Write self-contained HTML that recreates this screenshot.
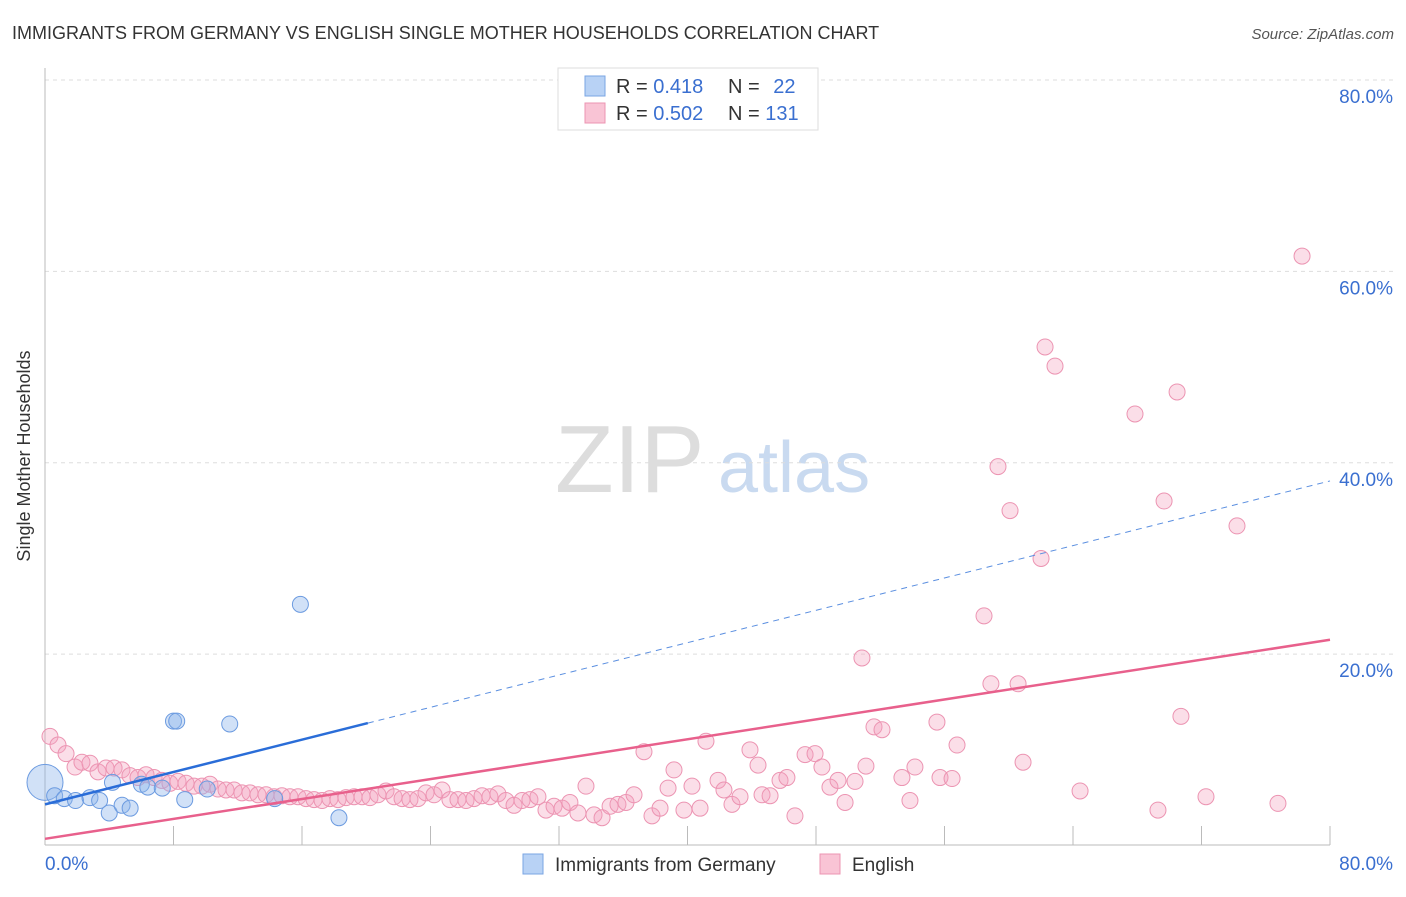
<!DOCTYPE html>
<html><head><meta charset="utf-8"><style>
body{margin:0;background:#fff;font-family:"Liberation Sans",sans-serif;}
svg text{font-family:"Liberation Sans",sans-serif;}
</style></head><body>
<svg id="chart" width="1406" height="892" viewBox="0 0 1406 892">
<text x="12" y="39" font-size="18" fill="#333">IMMIGRANTS FROM GERMANY VS ENGLISH SINGLE MOTHER HOUSEHOLDS CORRELATION CHART</text>
<text x="1394" y="39" font-size="15" fill="#555" text-anchor="end" font-style="italic">Source: ZipAtlas.com</text>
<text x="30" y="456" font-size="18" fill="#333" text-anchor="middle" transform="rotate(-90 30 456)">Single Mother Households</text>
<text x="555" y="492" font-size="96" fill="#ddd" font-family="Liberation Serif">ZIP</text>
<text x="718" y="492" font-size="72" fill="#c9daf0">atlas</text>
<g id="grid"></g>
<g id="pts"></g>
<g id="lines"></g>
<g>
<rect x="558" y="68" width="260" height="62" fill="#fff" stroke="#ddd"/>
<rect x="585" y="76" width="20" height="20" fill="#b8d2f5" stroke="#7aa5e3"/>
<rect x="585" y="103" width="20" height="20" fill="#f9c4d5" stroke="#ec94b2"/>
<text x="616" y="93" font-size="20" fill="#333">R = <tspan fill="#3a6fd0">0.418</tspan></text>
<text x="728" y="93" font-size="20" fill="#333">N = <tspan fill="#3a6fd0" dx="8">22</tspan></text>
<text x="616" y="120" font-size="20" fill="#333">R = <tspan fill="#3a6fd0">0.502</tspan></text>
<text x="728" y="120" font-size="20" fill="#333">N = <tspan fill="#3a6fd0">131</tspan></text>
</g>
<g>
<rect x="523" y="854" width="20" height="20" fill="#b8d2f5" stroke="#7aa5e3"/>
<text x="555" y="871" font-size="19" fill="#333">Immigrants from Germany</text>
<rect x="820" y="854" width="20" height="20" fill="#f9c4d5" stroke="#ec94b2"/>
<text x="852" y="871" font-size="19" fill="#333">English</text>
</g>
</svg>
<script>
const yTicks=[20,40,60,80];
const xTickLabels=["0.0%","80.0%"];
const blueX=[0,0.6,1.2,1.9,2.8,3.4,4.0,4.2,4.8,5.3,6.0,6.4,7.3,8.0,8.2,8.7,10.1,11.5,14.3,15.9,18.3];
const blueY=[6.6,5.2,4.9,4.7,5.0,4.7,3.4,6.6,4.2,3.9,6.4,6.1,6.0,13.0,13.0,4.8,5.9,12.7,4.9,25.2,2.9];
const pinkX=[0.31,0.81,1.31,1.87,2.30,2.80,3.30,3.80,4.30,4.79,5.29,5.79,6.29,6.79,7.28,7.78,8.28,8.78,9.28,9.77,10.27,10.77,11.27,11.77,12.26,12.76,13.26,13.76,14.26,14.75,15.25,15.75,16.25,16.75,17.25,17.74,18.24,18.74,19.24,19.74,20.23,20.73,21.23,21.73,22.23,22.72,23.22,23.72,24.22,24.72,25.21,25.71,26.21,26.71,27.21,27.70,28.20,28.70,29.20,29.70,30.19,30.69,31.19,31.69,32.19,32.68,33.18,33.68,34.18,34.68,35.18,35.67,36.17,36.67,37.29,37.79,38.29,38.79,39.16,39.78,40.28,40.78,41.15,41.90,42.27,42.77,43.27,43.89,44.39,44.64,45.14,45.76,46.19,46.69,47.32,47.94,48.37,48.87,49.37,49.81,50.43,50.86,51.11,51.61,52.11,53.35,53.85,54.16,55.53,55.72,56.47,56.78,58.46,58.89,59.33,60.08,60.58,60.89,62.01,62.26,62.88,64.44,67.86,69.29,69.67,70.48,70.72,72.28,74.21,76.76,78.26];
const pinkY=[11.4,10.5,9.6,8.2,8.7,8.6,7.7,8.1,8.1,7.9,7.3,7.1,7.4,7.1,6.8,6.5,6.7,6.5,6.2,6.2,6.4,5.9,5.8,5.8,5.5,5.5,5.3,5.3,5.1,5.2,5.1,5.1,4.9,4.8,4.7,4.9,4.8,5.0,5.1,5.1,5.0,5.3,5.7,5.1,4.9,4.8,4.9,5.5,5.3,5.8,4.8,4.8,4.7,4.9,5.2,5.1,5.4,4.7,4.2,4.7,4.8,5.1,3.7,4.1,3.9,4.5,3.4,6.2,3.2,2.9,4.1,4.3,4.5,5.3,9.8,3.1,3.9,6.0,7.9,3.7,6.2,3.9,10.9,6.8,5.8,4.3,5.1,10.0,8.4,5.3,5.2,6.8,7.1,3.1,9.5,9.6,8.2,6.1,6.8,4.5,6.7,19.6,8.3,12.4,12.1,7.1,4.7,8.2,12.9,7.1,7.0,10.5,24.0,16.9,39.6,35.0,16.9,8.7,30.0,52.1,50.1,5.7,45.1,3.7,36.0,47.4,13.5,5.1,33.4,4.4,61.6];
const X0=45,XS=(1330-45)/80,Y0=845.5,YS=(845.5-80)/80;
const sx=v=>X0+v*XS, sy=v=>Y0-v*YS;
const NS="http://www.w3.org/2000/svg";
function mk(tag,attrs,parent){const e=document.createElementNS(NS,tag);for(const k in attrs)e.setAttribute(k,attrs[k]);parent.appendChild(e);return e;}
const grid=document.getElementById('grid');
yTicks.forEach(t=>{
 const l=mk('line',{x1:45,x2:1394,y1:sy(t),y2:sy(t),stroke:'#ddd','stroke-dasharray':'4,4'},grid);
 
 
 const tx=mk('text',{x:1393,y:sy(t)+23,'font-size':19,fill:'#3a6fd0','text-anchor':'end'},grid);
 tx.textContent=t.toFixed(1)+'%';
 
 
});
const ax=mk('line',{x1:45,x2:1330,y1:845,y2:845,stroke:'#bbb'},grid);


const ay=mk('line',{x1:45,x2:45,y1:68,y2:845,stroke:'#bbb'},grid);


for(let i=1;i<=10;i++){const v=i*8;const t=mk('line',{x1:sx(v),x2:sx(v),y1:826,y2:845,stroke:'#bbb'},grid);
 
 }
const xl0=mk('text',{x:45,y:870,'font-size':19,fill:'#3a6fd0'},grid);xl0.textContent=xTickLabels[0];


const xl1=mk('text',{x:1393,y:870,'font-size':19,fill:'#3a6fd0','text-anchor':'end'},grid);xl1.textContent=xTickLabels[1];


const pts=document.getElementById('pts');
pinkX.forEach((x,i)=>{const c=mk('circle',{cx:sx(x),cy:sy(pinkY[i]),r:8,fill:'rgba(244,160,190,0.35)',stroke:'#ec94b2','stroke-width':1},pts);
 
 });
blueX.forEach((x,i)=>{const c=mk('circle',{cx:sx(x),cy:sy(blueY[i]),r:i==0?18:8,fill:'rgba(140,180,235,0.4)',stroke:'#6c9be0','stroke-width':1},pts);
 
 });
const lines=document.getElementById('lines');
const bl=v=>4.3+v*0.4225, pl=v=>0.7+v*0.26;
const b1=mk('line',{x1:sx(0),y1:sy(bl(0)),x2:sx(20.1),y2:sy(bl(20.1)),stroke:'#2a6dd8','stroke-width':2.5},lines);


const b2=mk('line',{x1:sx(20.1),y1:sy(bl(20.1)),x2:sx(80),y2:sy(bl(80)),stroke:'#5b8fe0','stroke-width':1,'stroke-dasharray':'6,5'},lines);


const p1=mk('line',{x1:sx(0),y1:sy(pl(0)),x2:sx(80),y2:sy(pl(80)),stroke:'#e8608c','stroke-width':2.5},lines);


</script>
</body></html>
